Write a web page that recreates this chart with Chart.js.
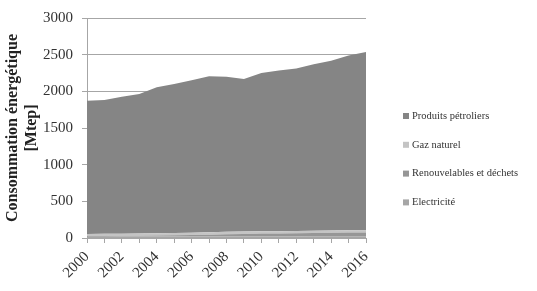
<!DOCTYPE html>
<html>
<head>
<meta charset="utf-8">
<script src="https://cdn.jsdelivr.net/npm/chart.js@4"></script>
<style>
  html, body { margin: 0; padding: 0; background: #fff; }
  #wrap { width: 537px; height: 291px; }
</style>
</head>
<body>
<div id="wrap"><canvas id="chart-energie"></canvas></div>
<script>
// années
const annees = ['2000', '2001', '2002', '2003', '2004', '2005', '2006', '2007', '2008',
    '2009', '2010', '2011', '2012', '2013', '2014', '2015', '2016'];

// consommation par source [Mtep]
const electricite = [18, 18, 19, 19, 19, 20, 20, 20, 21, 21, 22, 22, 22, 23, 23, 24, 24];
const renouvelables = [8, 9, 10, 12, 14, 17, 20, 25, 30, 34, 38, 40, 42, 45, 48, 50, 52];
const gazNaturel = [30, 30, 30, 31, 31, 31, 32, 33, 34, 33, 32, 31, 30, 30, 30, 30, 30];
const produitsPetroliers = [1816, 1826, 1866, 1903, 1991, 2032, 2078, 2127, 2115, 2080,
    2158, 2190, 2218, 2272, 2317, 2386, 2431];

const yTicks = [0, 500, 1000, 1500, 2000, 2500, 3000];

const police = '"Liberation Serif", "DejaVu Serif", serif';

function serie(label, data, couleur, fill) {
    return {
        label: label,
        data: data,
        backgroundColor: couleur,
        borderColor: couleur,
        borderWidth: 0,
        pointRadius: 0,
        fill: fill,
        tension: 0
    };
}

// legende dessinee a la main (ordre Excel : du haut vers le bas)
const legendeExcel = {
    id: 'legendeExcel',
    afterDraw(chart) {
        const ctx = chart.ctx;
        const items = chart.data.datasets.slice().reverse();
        ctx.save();
        ctx.font = '10.5px ' + police;
        ctx.textBaseline = 'middle';
        items.forEach((ds, i) => {
            const y = 116 + i * 28.8;
            ctx.fillStyle = ds.backgroundColor;
            ctx.fillRect(403, y - 3, 6, 6);
            ctx.fillStyle = '#333';
            ctx.fillText(ds.label, 412, y);
        });
        ctx.restore();
    }
};

const ctx = document.getElementById('chart-energie').getContext('2d');
const chart_energie = new Chart(ctx, {
    type: 'line',
    data: {
        labels: annees,
        datasets: [
            serie('Electricité', electricite, '#a6a6a6', 'origin'),
            serie('Renouvelables et déchets', renouvelables, '#969696', '-1'),
            serie('Gaz naturel', gazNaturel, '#c4c4c4', '-1'),
            serie('Produits pétroliers', produitsPetroliers, '#858585', '-1')
        ]
    },
    options: {
        responsive: true,
        maintainAspectRatio: false,
        animation: false,
        layout: {
            padding: { left: 3, right: 171, top: 15, bottom: 0 }
        },
        plugins: {
            legend: { display: false },
            tooltip: { enabled: false }
        },
        scales: {
            x: {
                offset: false,
                grid: {
                    drawOnChartArea: false,
                    drawTicks: true,
                    tickLength: 5,
                    color: '#a6a6a6'
                },
                border: { color: '#a6a6a6' },
                ticks: {
                    autoSkip: false,
                    maxRotation: 45,
                    minRotation: 45,
                    padding: 5,
                    color: '#333',
                    font: { family: police, size: 15 },
                    callback: function (val, index) {
                        return index % 2 === 0 ? this.getLabelForValue(val) : '';
                    }
                },
                afterFit: (s) => { s.height = 53; }
            },
            y: {
                stacked: true,
                min: 0,
                max: 3000,
                afterBuildTicks: (s) => { s.ticks = yTicks.map(v => ({ value: v })); },
                grid: {
                    color: '#a6a6a6',
                    tickLength: 5
                },
                border: { color: '#a6a6a6' },
                ticks: {
                    padding: 9,
                    color: '#333',
                    font: { family: police, size: 15 },
                    callback: (v) => String(v)
                },
                title: {
                    display: true,
                    text: ['Consommation énergétique', '[Mtep]'],
                    color: '#222',
                    font: { family: police, size: 16, weight: 'bold' },
                    padding: 0
                },
                afterFit: (s) => { s.width = 84; }
            }
        }
    },
    plugins: [legendeExcel]
});
</script>
</body>
</html>
